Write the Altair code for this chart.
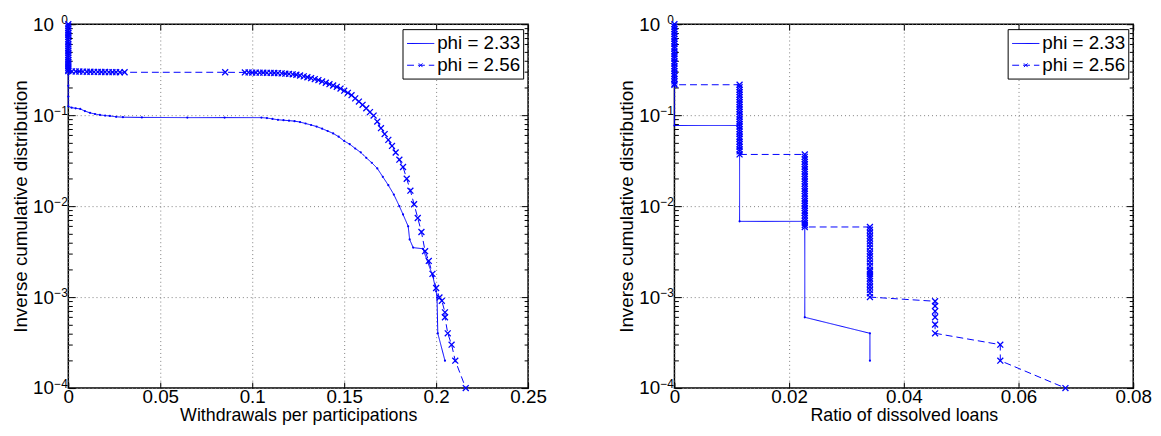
import altair as alt
import pandas as pd

FONT = "Liberation Sans"
BLUE = "#0000ff"
NAMES = ["phi = 2.33", "phi = 2.56"]

# ---------------- left panel: withdrawals per participations ----------------
L233_X = [0, 0, 0, 0, 0, 0, 0, 0, 0,
          0.0018, 0.0040, 0.0065, 0.009, 0.0118, 0.0145, 0.0172, 0.020, 0.0226, 0.026,
          0.0297, 0.040, 0.0647, 0.085, 0.105, 0.108, 0.111, 0.114, 0.117, 0.120,
          0.123, 0.126, 0.129, 0.132, 0.135, 0.138, 0.141, 0.144, 0.147, 0.150,
          0.153, 0.156, 0.159, 0.162, 0.165, 0.168, 0.171, 0.174, 0.177, 0.180,
          0.182, 0.1848, 0.1856, 0.1875, 0.1928, 0.1955, 0.1982, 0.200, 0.2005,
          0.2009, 0.2048]
L233_Y = [1.0, 0.8, 0.62, 0.48, 0.37, 0.28, 0.21, 0.16, 0.125,
          0.121, 0.119, 0.117, 0.111, 0.106, 0.103, 0.1006, 0.099, 0.098, 0.096,
          0.095, 0.0945, 0.094, 0.094, 0.094, 0.093, 0.091, 0.089, 0.088, 0.087,
          0.086, 0.084, 0.081, 0.078, 0.075, 0.071, 0.067, 0.063, 0.058, 0.052,
          0.048, 0.043, 0.039, 0.034, 0.030, 0.026, 0.021, 0.017, 0.0134, 0.0100,
          0.0081, 0.0060, 0.0043, 0.0035, 0.0034, 0.0024, 0.0017, 0.00116, 0.00099,
          0.0004, 0.0002]

L256_X = [0] * 23 + [
    0.002, 0.004, 0.006, 0.008, 0.010, 0.012, 0.014, 0.016, 0.018, 0.020,
    0.022, 0.024, 0.026, 0.028, 0.0306, 0.0853,
    0.096, 0.098, 0.100, 0.102, 0.104, 0.106, 0.108, 0.110, 0.112, 0.114,
    0.116, 0.118, 0.120, 0.122, 0.124, 0.126, 0.128, 0.130, 0.132, 0.134,
    0.136, 0.138, 0.140, 0.142, 0.144, 0.146, 0.148, 0.150, 0.152, 0.154,
    0.156, 0.158, 0.160, 0.162, 0.164, 0.166, 0.168, 0.170, 0.172, 0.174,
    0.176, 0.178, 0.180, 0.182, 0.184, 0.186, 0.188, 0.190, 0.192, 0.194,
    0.196, 0.198, 0.200, 0.2018, 0.2031, 0.2048, 0.2048, 0.2063, 0.2084,
    0.2104, 0.2161]
L256_Y = [1.0, 0.95, 0.9, 0.85, 0.8, 0.76, 0.72, 0.68, 0.64, 0.6, 0.57, 0.54,
          0.51, 0.48, 0.455, 0.43, 0.405, 0.385, 0.365, 0.345, 0.33, 0.315, 0.305,
          0.303, 0.302, 0.302, 0.301, 0.300, 0.300, 0.299, 0.299, 0.298, 0.298,
          0.297, 0.297, 0.297, 0.296, 0.296, 0.296,
          0.295, 0.295, 0.294, 0.294, 0.293, 0.293, 0.292, 0.292, 0.291, 0.290,
          0.288, 0.286, 0.284, 0.281, 0.278, 0.273, 0.267, 0.261, 0.255, 0.249,
          0.243, 0.235, 0.227, 0.219, 0.212, 0.205, 0.196, 0.186, 0.176, 0.166,
          0.153, 0.141, 0.130, 0.119, 0.108, 0.099, 0.085, 0.072, 0.062, 0.0535,
          0.0459, 0.0389, 0.0324, 0.0269, 0.020, 0.0148, 0.0105, 0.0074, 0.0052,
          0.0032, 0.0025, 0.0018, 0.00126, 0.00099, 0.00091, 0.00068, 0.0006,
          0.0004, 0.0003, 0.0002, 0.0001]

# ---------------- right panel: ratio of dissolved loans ----------------
R233_X = [0, 0, 0.01136, 0.01136, 0.02273, 0.02273, 0.03409, 0.03409]
R233_Y = [1.0, 0.077, 0.077, 0.0068, 0.0068, 0.0006, 0.0004, 0.0002]

R256_B0 = [1.0, 0.94, 0.88, 0.83, 0.78, 0.73, 0.69, 0.65, 0.61, 0.57, 0.54, 0.50,
           0.47, 0.445, 0.42, 0.39, 0.37, 0.345, 0.325, 0.305, 0.285, 0.27, 0.25,
           0.235, 0.222, 0.216]
R256_B1 = [0.216, 0.203, 0.19, 0.179, 0.168, 0.158, 0.148, 0.139, 0.131, 0.123,
           0.116, 0.109, 0.102, 0.096, 0.09, 0.085, 0.08, 0.075, 0.07, 0.066,
           0.062, 0.058, 0.055, 0.051, 0.048, 0.045, 0.042, 0.04, 0.037]
R256_B2 = [0.037, 0.0348, 0.0327, 0.0307, 0.0289, 0.0271, 0.0255, 0.024, 0.0225,
           0.0212, 0.0199, 0.0187, 0.0176, 0.0165, 0.0155, 0.0146, 0.0137, 0.0129,
           0.0121, 0.0114, 0.0107, 0.0101, 0.0095, 0.0089, 0.0084, 0.0079, 0.0074,
           0.0069, 0.0065, 0.0062, 0.0059]
R256_B3 = [0.0059, 0.0055, 0.0051, 0.0047, 0.0044, 0.0041, 0.0038, 0.0035, 0.0032,
           0.0030, 0.0028, 0.0026, 0.0024, 0.0022, 0.0020, 0.0019, 0.0018, 0.0017,
           0.0016, 0.0015, 0.0014, 0.0013, 0.0012, 0.0011, 0.0010]
R256_TAIL_X = [0.04545, 0.04545, 0.04545, 0.04545, 0.04545, 0.04545,
               0.05682, 0.05682, 0.06818]
R256_TAIL_Y = [0.0009, 0.0008, 0.0007, 0.0006, 0.0005, 0.0004, 0.0003, 0.0002, 0.0001]
R256_X = ([0] * len(R256_B0) + [0.01136] * len(R256_B1) + [0.02273] * len(R256_B2)
          + [0.03409] * len(R256_B3) + R256_TAIL_X)
R256_Y = R256_B0 + R256_B1 + R256_B2 + R256_B3 + R256_TAIL_Y

LEFT_XTICKS = [0, 0.05, 0.1, 0.15, 0.2, 0.25]
RIGHT_XTICKS = [0, 0.02, 0.04, 0.06, 0.08]
DECADES = [1e-4, 1e-3, 1e-2, 1e-1, 1.0]
ALL_YTICKS = [k * 10.0 ** d for d in range(-4, 0) for k in range(1, 10)] + [1.0]

MAJOR_TEST = "abs(log(datum.value)/LN10 - round(log(datum.value)/LN10)) < 0.001"
FS = 19


def frame(xs, ys, name):
    return pd.DataFrame({"x": xs, "y": ys, "series": name, "idx": list(range(len(xs)))})


def panel(xa, ya, xb, yb, xdom, xticks, xtitle, W, H):
    da = frame(xa, ya, NAMES[0])
    db = frame(xb, yb, NAMES[1])
    dall = pd.concat([da, db], ignore_index=True)
    xs = alt.Scale(domain=xdom, nice=False, zero=False)
    ys = alt.Scale(type="log", domain=[1e-4, 1], nice=False)
    common = dict(domain=False, labelFont=FONT, titleFont=FONT,
                  labelColor="black", titleColor="black")

    leg = alt.Legend(title=None, orient="top-right", offset=5, fillColor="white",
                     strokeColor="black", padding=3, labelFontSize=FS, labelFont=FONT,
                     labelColor="black", symbolSize=484, symbolStrokeWidth=1,
                     labelOffset=9, rowPadding=0,
                     symbolType=alt.ExprRef(expr=(
                         "datum.value === 'phi = 2.33' ? 'M-0.9,0L1.6,0' : "
                         "'M-0.9,0L1.6,0M0.18,-0.17L0.52,0.17M0.18,0.17L0.52,-0.17'")))

    x_main = alt.X("x:Q", scale=xs, axis=alt.Axis(
        values=xticks, format="~g", title=xtitle, grid=True, gridDash=[1, 3],
        gridColor="#808080", gridWidth=1, ticks=False, tickSize=0, labelPadding=0,
        labelFontSize=FS, titleFontSize=18, titleFontWeight="normal", titlePadding=0,
        labelFlush=False, labelOverlap=False, orient="bottom", **common))
    y_main = alt.Y("y:Q", scale=ys, axis=alt.Axis(
        values=DECADES, labelExpr="'10'", title="Inverse cumulative distribution",
        grid=True, gridDash=[1, 3], gridColor="#808080", gridWidth=1, ticks=False,
        tickSize=0, labelPadding=15, labelFontSize=FS, titleFontSize=FS,
        titleFontWeight="normal", titlePadding=2, labelFlush=False,
        labelOverlap=False, orient="left", **common))

    lines = alt.Chart(dall).mark_line(strokeWidth=1).encode(
        x=x_main, y=y_main,
        color=alt.Color("series:N", scale=alt.Scale(domain=NAMES, range=[BLUE, BLUE]), legend=leg),
        strokeDash=alt.StrokeDash("series:N", scale=alt.Scale(domain=NAMES, range=[[1, 0], [7, 4]]), legend=leg),
        order="idx:Q",
        detail="series:N",
    )

    tick_size = {"condition": {"test": MAJOR_TEST, "value": 7}, "value": 4}

    crosses = alt.Chart(db).mark_point(
        shape="M-1,-1L1,1M-1,1L1,-1", filled=False, size=36, strokeWidth=1.3,
        color=BLUE, opacity=1).encode(
        x=alt.X("x:Q", scale=xs, axis=alt.Axis(
            orient="top", offset=-H, values=xticks, labels=False, grid=False,
            ticks=True, tickSize=6, tickColor="black", title=None, domain=False)),
        y=alt.Y("y:Q", scale=ys, axis=alt.Axis(
            orient="left", values=DECADES,
            labelExpr="datum.value >= 0.999 ? '0' : '\u2212' + format(-log(datum.value)/LN10, '.0f')",
            labels=True, grid=False, ticks=False, tickSize=0, labelPadding=1,
            labelFontSize=12, labelOffset=-5, labelFlush=False, labelOverlap=False,
            title=None, **common)),
    )
    dots = alt.Chart(da).mark_point(
        shape="circle", filled=True, size=5, color=BLUE, opacity=1).encode(
        x=alt.X("x:Q", scale=xs, axis=alt.Axis(
            orient="bottom", offset=-H, values=xticks, labels=False, grid=False,
            ticks=True, tickSize=6, tickColor="black", title=None, domain=False)),
        y=alt.Y("y:Q", scale=ys, axis=alt.Axis(
            orient="right", offset=-W, values=ALL_YTICKS, labels=False, grid=False,
            ticks=True, tickSize=tick_size, tickColor="black", title=None, domain=False)),
    )
    ghost = alt.Chart(dall).mark_point(opacity=0).encode(
        x=alt.X("x:Q", scale=xs, axis=None),
        y=alt.Y("y:Q", scale=ys, axis=alt.Axis(
            orient="left", offset=-W, values=ALL_YTICKS, labels=False, grid=False,
            ticks=True, tickSize=tick_size, tickColor="black", title=None, domain=False)),
    )
    return alt.layer(lines, crosses, dots, ghost).resolve_axis(
        x="independent", y="independent").properties(width=W, height=H)


left = panel(L233_X, L233_Y, L256_X, L256_Y, [0, 0.25], LEFT_XTICKS,
             "Withdrawals per participations", 465, 368)
right = panel(R233_X, R233_Y, R256_X, R256_Y, [0, 0.08], RIGHT_XTICKS,
              "Ratio of dissolved loans", 464, 368)

chart = alt.hconcat(left, right, spacing=148, bounds="flush").resolve_scale(
    color="independent", strokeDash="independent").resolve_legend(
    color="independent", strokeDash="independent").configure_view(
    stroke="black", strokeWidth=1.5).properties(
    padding={"left": 3, "top": 2, "right": 0, "bottom": 0})

chart.save("out.html", embed_options={"renderer": "svg", "actions": False})
